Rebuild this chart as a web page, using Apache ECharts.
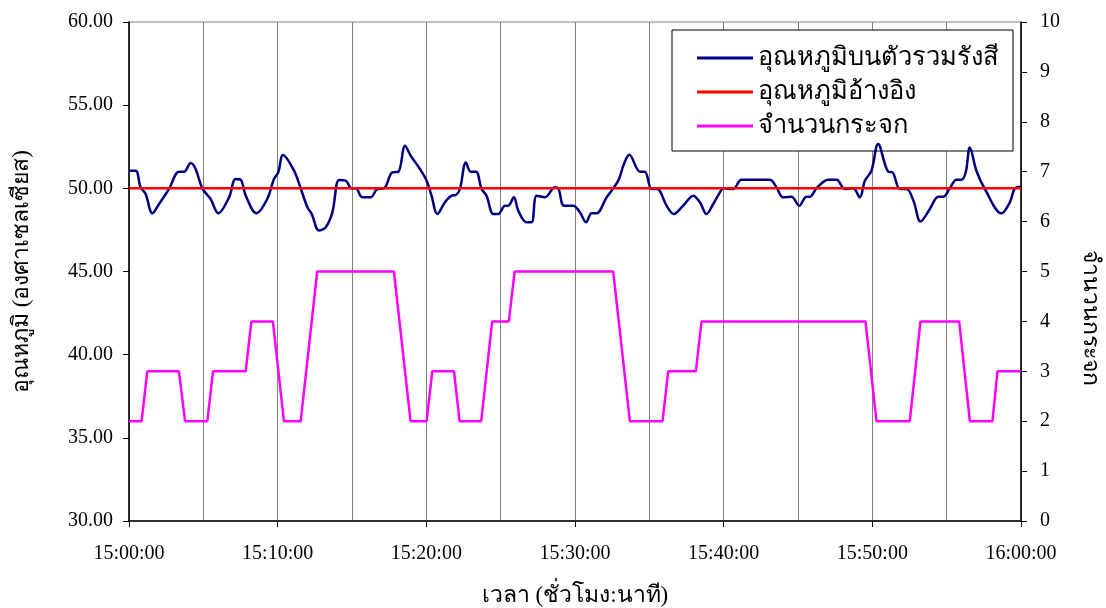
<!DOCTYPE html>
<html>
<head>
<meta charset="utf-8">
<script src="https://cdn.jsdelivr.net/npm/echarts@6/dist/echarts.min.js"></script>
<style>
  html, body { margin: 0; padding: 0; background: #fff; }
  #chart { width: 1106px; height: 608px; }
</style>
</head>
<body>
<div id="chart"></div>
<script>
// เวลา นับเป็นนาทีหลัง 15:00:00
const blueTime = [0, 0.45, 0.78, 1.12, 1.57, 2.02, 2.69, 3.36, 3.70, 4.15, 4.48, 4.93, 5.49, 6.01, 6.73, 7.17, 7.51, 7.85,
  8.57, 9.30, 9.75, 10.04, 10.36, 11.10, 11.55, 12.0, 12.29, 12.78, 13.23, 13.68, 14.13, 14.57, 14.98, 15.25, 15.70,
  16.26, 16.70, 17.15, 17.71, 18.12, 18.57, 18.95, 19.57, 20.02, 20.35, 20.74, 21.25, 21.70, 21.99, 22.26, 22.66,
  22.98, 23.34, 23.72, 24.05, 24.50, 24.84, 25.29, 25.51, 25.89, 26.18, 26.74, 27.08, 27.42, 27.98, 28.65, 28.88,
  29.26, 29.88, 30.33, 30.74, 31.12, 31.45, 32.13, 32.91, 33.29, 33.65, 34.37, 34.70, 35.15, 35.53, 36.16, 36.65,
  37.28, 37.96, 38.40, 38.85, 39.30, 39.75, 39.97, 40.64, 41.2, 43.1, 43.55, 44.0, 44.56, 45.08, 45.57, 45.8, 46.24,
  47.03, 47.59, 48.15, 48.71, 49.16, 49.5, 49.94, 50.39, 51.07, 51.36, 51.85, 52.30, 52.79, 53.24, 53.87, 54.43,
  54.77, 55.21, 55.66, 56.0, 56.29, 56.56, 57.0, 57.57, 58.69, 59.25, 59.59, 60.0];
const blueTemp = [51.06, 51.06, 50.06, 49.66, 48.5, 49.06, 49.96, 51.0, 51.0, 51.52, 51.16, 50.0, 49.36, 48.5, 49.46,
  50.56, 50.52, 49.56, 48.5, 49.36, 50.56, 50.96, 52.0, 51.06, 50.0, 48.86, 48.46, 47.46, 47.66, 48.56, 50.5, 50.46,
  50.0, 50.0, 49.46, 49.46, 49.96, 50.0, 50.96, 51.0, 52.56, 51.96, 51.16, 50.46, 49.56, 48.46, 49.16, 49.56, 49.6,
  49.96, 51.56, 51.0, 51.0, 49.96, 49.56, 48.46, 48.46, 48.96, 48.96, 49.46, 48.66, 47.96, 47.96, 49.56, 49.46,
  50.06, 50.0, 48.96, 48.96, 48.56, 47.96, 48.5, 48.5, 49.46, 50.46, 51.46, 52.02, 51.0, 51.0, 49.96, 49.96, 48.96,
  48.46, 48.96, 49.56, 49.16, 48.46, 49.06, 49.76, 50.0, 49.96, 50.52, 50.52, 50.06, 49.46, 49.5, 48.96, 49.5, 49.5,
  50.0, 50.52, 50.52, 49.96, 50.0, 49.46, 50.46, 51.06, 52.66, 51.0, 50.96, 49.96, 49.96, 49.2, 48.0, 48.76, 49.5,
  49.5, 50.0, 50.52, 50.52, 51.0, 52.46, 51.06, 49.96, 48.5, 49.16, 50.0, 50.1];

const refTime = [0, 60];
const refTemp = [50, 50];

const glassTime = [0, 0.85, 1.23, 3.36, 3.77, 5.27, 5.65, 7.85, 8.23, 9.68, 10.42, 11.55, 12.66, 17.82, 18.94, 20.02,
  20.4, 21.86, 22.24, 23.69, 24.43, 25.55, 25.94, 32.57, 33.69, 35.89, 36.27, 38.13, 38.51, 49.54, 50.28, 52.52,
  53.24, 55.84, 56.56, 58.08, 58.42, 60];
const glassCount = [2, 2, 3, 3, 2, 2, 3, 3, 4, 4, 2, 2, 5, 5, 2, 2, 3, 3, 2, 2, 4, 4, 5, 5, 2, 2, 3, 3, 4, 4, 2, 2,
  4, 4, 2, 2, 3, 3];

const seriesNames = ["อุณหภูมิบนตัวรวมรังสี", "อุณหภูมิอ้างอิง", "จำนวนกระจก"];

const FONT = "'Liberation Serif', 'DejaVu Serif', serif";

const zip = (xs, ys) => xs.map((x, i) => [x, ys[i]]);

const timeLabel = (m) => {
  const h = 15 + Math.floor(m / 60);
  const mm = Math.round(m % 60);
  return h + ":" + String(mm).padStart(2, "0") + ":00";
};

const myChart = echarts.init(document.getElementById("chart"));

const option = {
  animation: false,
  backgroundColor: "#fff",
  textStyle: { fontFamily: FONT },
  grid: {
    left: 129, right: 85, top: 22, bottom: 87,
    outerBoundsMode: "none",
    containLabel: false,
    show: true, borderColor: "#808080", borderWidth: 1
  },
  legend: {
    orient: "vertical",
    left: 672, top: 30,
    backgroundColor: "#fff",
    borderColor: "#000",
    borderWidth: 1,
    padding: [15, 14, 12, 25],
    itemGap: 8,
    itemWidth: 56,
    itemHeight: 3,
    icon: "rect",
    textStyle: { fontFamily: FONT, fontSize: 25.5, color: "#000" },
    data: seriesNames
  },
  xAxis: {
    type: "value",
    min: 0, max: 60, interval: 10,
    name: "เวลา (ชั่วโมง:นาที)",
    nameLocation: "middle",
    nameGap: 63,
    nameTextStyle: { fontFamily: FONT, fontSize: 23, color: "#000" },
    axisLine: { lineStyle: { color: "#000", width: 1.5 } },
    axisTick: { length: 6, lineStyle: { color: "#000" } },
    axisLabel: {
      margin: 23, fontSize: 20, color: "#000", fontFamily: FONT,
      formatter: (v) => timeLabel(v)
    },
    splitLine: { show: true, lineStyle: { color: "#808080", width: 1 } },
    minorTick: { show: false, splitNumber: 2 },
    minorSplitLine: { show: true, lineStyle: { color: "#808080", width: 1 } }
  },
  yAxis: [
    {
      type: "value",
      min: 30, max: 60, interval: 5,
      name: "อุณหภูมิ (องศาเซลเซียส)",
      nameLocation: "middle",
      nameGap: 96,
      nameTextStyle: { fontFamily: FONT, fontSize: 23, color: "#000" },
      axisLine: { show: true, lineStyle: { color: "#000", width: 1.5 } },
      axisTick: { show: true, length: 6, lineStyle: { color: "#000" } },
      axisLabel: {
        margin: 16, fontSize: 20, color: "#000", fontFamily: FONT,
        formatter: (v) => v.toFixed(2)
      },
      splitLine: { show: false }
    },
    {
      type: "value",
      position: "right",
      min: 0, max: 10, interval: 1,
      axisLine: { show: true, lineStyle: { color: "#000", width: 1.5 } },
      axisTick: { show: true, length: 6, lineStyle: { color: "#000" } },
      axisLabel: { margin: 19, fontSize: 20, color: "#000", fontFamily: FONT },
      splitLine: { show: false }
    }
  ],
  graphic: [
    {
      type: "text",
      x: 1090, y: 318,
      rotation: -Math.PI / 2,
      style: {
        text: "จำนวนกระจก",
        font: "23px " + FONT,
        fill: "#000",
        align: "center",
        verticalAlign: "middle"
      }
    }
  ],
  series: [
    {
      name: seriesNames[0],
      type: "line",
      yAxisIndex: 0,
      smooth: 0.35,
      showSymbol: false,
      color: "#000080",
      lineStyle: { color: "#000080", width: 2.5 },
      data: zip(blueTime, blueTemp),
      z: 4
    },
    {
      name: seriesNames[1],
      type: "line",
      yAxisIndex: 0,
      showSymbol: false,
      color: "#ff0000",
      lineStyle: { color: "#ff0000", width: 2.5 },
      data: zip(refTime, refTemp),
      z: 5
    },
    {
      name: seriesNames[2],
      type: "line",
      yAxisIndex: 1,
      showSymbol: false,
      color: "#ff00ff",
      lineStyle: { color: "#ff00ff", width: 2.5 },
      data: zip(glassTime, glassCount),
      z: 3
    }
  ]
};

myChart.setOption(option);
</script>
</body>
</html>
